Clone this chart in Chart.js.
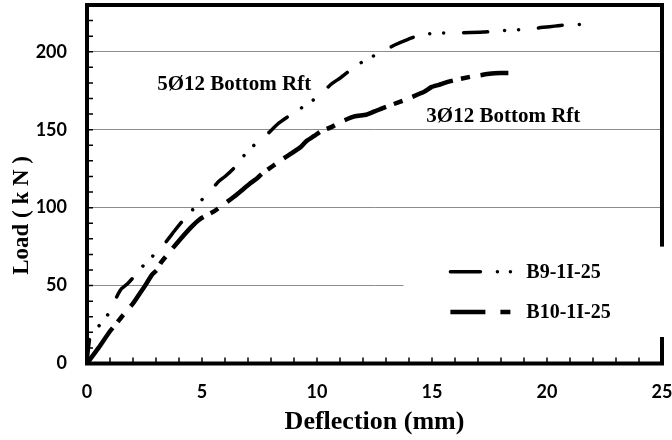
<!DOCTYPE html>
<html>
<head>
<meta charset="utf-8">
<script src="https://cdn.jsdelivr.net/npm/chart.js@4.4.1/dist/chart.umd.min.js"></script>
<style>
html, body { margin: 0; padding: 0; background: #fff; }
#wrap { width: 672px; height: 440px; }
</style>
</head>
<body>
<div id="wrap"><canvas id="loadChart"></canvas></div>
<script>
// B9-1I-25 (5Ø12)
const b9Defl = [0, 0.13, 0.35, 0.61, 1.03, 1.3, 1.5, 1.75, 2.0, 2.15, 2.56, 3.0, 3.43, 3.8, 4.13, 4.64, 5.12, 5.45, 5.7, 6.0, 6.39, 6.83, 7.26, 7.55, 7.9, 8.28, 8.7, 9.08, 9.52, 10.03, 10.6, 11.04, 11.56, 12.14, 12.79, 13.4, 13.96, 14.54, 15.27, 15.92, 17.23, 17.88, 18.6, 19.27, 20.58, 21.23, 21.96];
const b9Load = [0, 17, 21.5, 25.6, 34, 43, 48, 51, 55, 58, 64.5, 71, 78, 85, 91, 99.4, 107, 112, 116.5, 120, 125.4, 133.5, 140, 143.5, 148, 153.5, 158, 161.5, 166, 171, 179, 183.5, 189.5, 195, 199.6, 204.5, 208, 211, 212, 212, 212.6, 213.5, 214, 214.7, 216.9, 217.3, 218.3];
// B10-1I-25 (3Ø12)
const b10Defl = [0, 0.5, 1.0, 1.3, 1.51, 2.0, 2.3, 2.6, 2.83, 3.04, 3.23, 3.9, 4.5, 4.9, 5.52, 6.39, 7.05, 7.41, 7.63, 8.5, 9.3, 9.52, 9.88, 10.17, 10.6, 11.04, 11.63, 12.14, 12.5, 12.86, 13.8, 14.68, 14.97, 15.3, 15.77, 16.7, 17.59, 17.96, 18.32];
const b10Load = [0, 10, 20.7, 26, 30, 38.5, 45, 51.7, 57, 60, 65, 77, 87, 92.5, 97.6, 107, 115, 119, 122, 131, 139, 142.5, 146, 149, 151.5, 155, 158.5, 159.6, 161.7, 163.9, 169, 174.5, 177.3, 178.8, 181, 184, 186, 186.3, 186.3];

const seriesNames = ['B9-1I-25', 'B10-1I-25'];
const notes = [
	{ text: '5Ø12 Bottom Rft', x: 6.4, y: 179 },
	{ text: '3Ø12 Bottom Rft', x: 18.1, y: 158.6 }
];

const dashB9 = [24, 17, 0.01, 14, 0.01, 20];
const dashB10 = [44, 8, 9, 11];
const serif = 'Liberation Serif';

function pts(xs, ys) { return xs.map((x, i) => ({ x: x, y: ys[i] })); }

const framePlugin = {
	id: 'frame',
	afterDraw(chart) {
		const { ctx, chartArea: a, scales: { x, y } } = chart;
		ctx.save();
		// inner minor ticks
		ctx.strokeStyle = '#000';
		ctx.lineWidth = 1.5;
		ctx.beginPath();
		for (let v = 1; v < 25; v++) {
			const px = x.getPixelForValue(v);
			ctx.moveTo(px, a.bottom); ctx.lineTo(px, a.bottom - 6);
		}
		for (let v = 10; v < 230; v += 10) {
			const py = y.getPixelForValue(v);
			ctx.moveTo(a.left, py); ctx.lineTo(a.left + 6, py);
		}
		ctx.stroke();
		// frame
		ctx.lineWidth = 4;
		ctx.strokeRect(a.left, a.top, a.right - a.left, a.bottom - a.top);

		// legend box (white, covers grid + right border)
		const bx = x.getPixelForValue(13.76), by = y.getPixelForValue(75);
		const bb = y.getPixelForValue(17);
		ctx.fillStyle = '#fff';
		ctx.fillRect(bx, by, a.right + 3 - bx, bb - by);
		const rows = [
			{ name: seriesNames[0], yv: 58.8, dash: [30, 17, 0.01, 13, 0.01, 40], w: 3.5, cap: 'round' },
			{ name: seriesNames[1], yv: 33.1, dash: [35, 15, 10, 40], w: 4.5, cap: 'butt' }
		];
		ctx.font = 'bold 20px "' + serif + '"';
		ctx.textBaseline = 'middle';
		ctx.textAlign = 'left';
		rows.forEach(r => {
			const py = y.getPixelForValue(r.yv);
			const x0 = x.getPixelForValue(15.8);
			ctx.strokeStyle = '#000';
			ctx.lineWidth = r.w;
			ctx.lineCap = r.cap;
			ctx.setLineDash(r.dash);
			ctx.beginPath(); ctx.moveTo(x0, py); ctx.lineTo(x0 + 62, py); ctx.stroke();
			ctx.setLineDash([]);
			ctx.fillStyle = '#000';
			ctx.fillText(r.name, x.getPixelForValue(19.1), py + 1);
		});

		// curve notes
		ctx.font = 'bold 21px "' + serif + '"';
		ctx.textAlign = 'center';
		notes.forEach(n => ctx.fillText(n.text, x.getPixelForValue(n.x), y.getPixelForValue(n.y)));

		// y title
		ctx.translate(22, y.getPixelForValue(95));
		ctx.rotate(-Math.PI / 2);
		ctx.font = 'bold 23px "' + serif + '"';
		ctx.fillText('Load ( k N )', 0, 0);
		ctx.restore();
	}
};

const tickFont = { family: 'Lato', weight: 'bold', size: 18 };

new Chart(document.getElementById('loadChart'), {
	type: 'line',
	data: {
		datasets: [
			{ label: seriesNames[0], data: pts(b9Defl, b9Load), borderColor: '#000', borderWidth: 3.5, borderDash: dashB9, borderCapStyle: 'round', pointRadius: 0, tension: 0.2, fill: false },
			{ label: seriesNames[1], data: pts(b10Defl, b10Load), borderColor: '#000', borderWidth: 4.5, borderDash: dashB10, borderCapStyle: 'butt', pointRadius: 0, tension: 0.2, fill: false }
		]
	},
	options: {
		responsive: true,
		maintainAspectRatio: false,
		animation: false,
		layout: { padding: { top: 5, right: 10, left: 0, bottom: 0 } },
		plugins: { legend: { display: false }, tooltip: { enabled: false } },
		scales: {
			x: {
				type: 'linear', min: 0, max: 25,
				ticks: { stepSize: 5, includeBounds: false, color: '#000', font: tickFont, padding: 18, maxRotation: 0 },
				grid: { display: false, drawTicks: false },
				border: { display: false },
				title: { display: true, text: 'Deflection (mm)', color: '#000', font: { family: serif, weight: 'bold', size: 26 }, padding: { top: 0, bottom: 2 } },
				afterFit(s) { s.height = 76.5; s.paddingLeft = 0; s.paddingRight = 0; }
			},
			y: {
				type: 'linear', min: 0, max: 230,
				ticks: { stepSize: 50, includeBounds: false, color: '#000', font: tickFont, padding: 20 },
				grid: { color: '#8c8c8c', lineWidth: 1, drawTicks: false },
				border: { display: false },
				afterFit(s) { s.width = 87; s.paddingTop = 0; s.paddingBottom = 0; }
			}
		}
	},
	plugins: [framePlugin]
});
</script>
</body>
</html>
